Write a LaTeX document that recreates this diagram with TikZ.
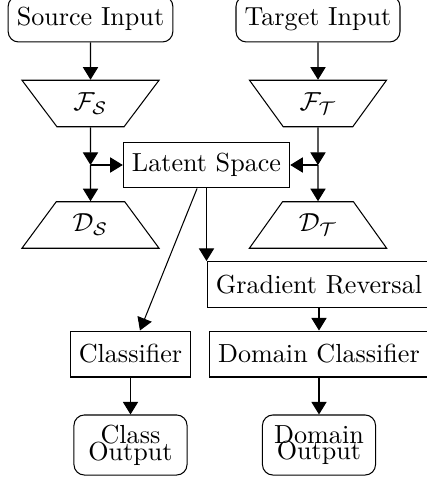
\documentclass[tikz,border=0pt]{standalone}
\usetikzlibrary{arrows.meta,shapes.geometric}
\newcommand\tightlines{\fontsize{10pt}{6.4pt}\selectfont\lineskiplimit=-20pt\relax\lineskip=0pt\relax}
\begin{document}
\begin{tikzpicture}[x=0.383pt,y=-0.383pt,
  box/.style={draw, minimum height=17.6pt, inner sep=3.33pt},
  rbox/.style={box, rounded corners=4pt},
  outbox/.style={draw, rounded corners=4pt, minimum width=43.3pt, minimum height=23pt, align=center, inner sep=0pt,
    font=\tightlines},
  trap/.style={draw, trapezium, trapezium left angle=50.7, trapezium right angle=50.7, trapezium stretches=true,
    minimum width=52.6pt, minimum height=17.8pt, inner sep=0pt},
  arr/.style={-{Triangle[length=4.8pt,width=5.8pt]}}]
\useasboundingbox (0,0) rectangle (426,480);
\node[rbox] (srcin) at (90.5,19) {Source Input};
\node[rbox] (tgtin) at (318,19) {Target Input};
\node[trap, shape border rotate=180] (FS) at (90.5,103.5) {$\mathcal{F}_{\mathcal{S}}$};
\node[trap, shape border rotate=180] (FT) at (318,103.5) {$\mathcal{F}_{\mathcal{T}}$};
\node[box] (lat) at (206.5,165) {Latent Space};
\coordinate (jS) at (90.5,165);
\coordinate (jT) at (318,165);
\node[trap] (DS) at (90.5,225) {$\mathcal{D}_{\mathcal{S}}$};
\node[trap] (DT) at (318,225) {$\mathcal{D}_{\mathcal{T}}$};
\node[box] (gr) at (319,284.5) {Gradient Reversal};
\node[box] (clf) at (130.5,354) {Classifier};
\node[box] (dc) at (319,354) {Domain Classifier};
\node[outbox] (cout) at (130.5,445) {Class\\Output};
\node[outbox] (dout) at (319,445) {Domain\\Output};
\draw[arr] (srcin) -- (FS);
\draw[arr] (tgtin) -- (FT);
\draw[arr] (FS) -- (jS);
\draw[arr] (FT) -- (jT);
\draw[arr] (jS) -- (lat);
\draw[arr] (jT) -- (lat);
\draw[arr] (jS) -- (DS);
\draw[arr] (jT) -- (DT);
\draw[arr] (lat) -- (clf);
\draw[arr] (lat.south) -- (lat.south |- gr.north);
\draw[arr] (gr) -- (dc);
\draw[arr] (clf) -- (cout);
\draw[arr] (dc) -- (dout);
\end{tikzpicture}
\end{document}
